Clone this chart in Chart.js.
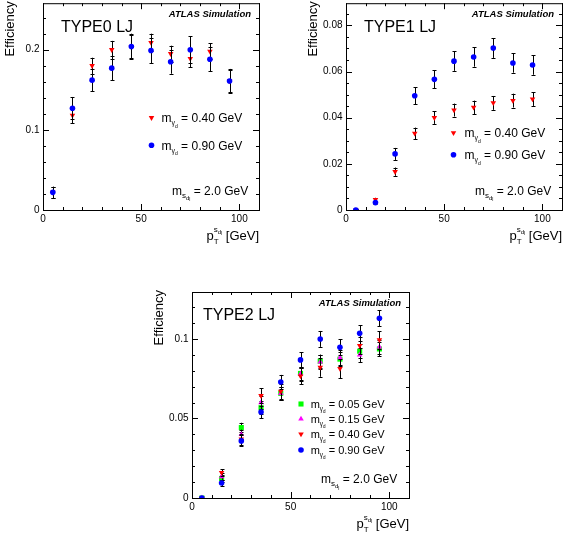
<!DOCTYPE html>
<html>
<head>
<meta charset="utf-8">
<script src="https://cdn.jsdelivr.net/npm/chart.js@4.4.0/dist/chart.umd.min.js"></script>
<style>
body { margin: 0; background: #fff; }
canvas { position: absolute; }
</style>
</head>
<body>
<canvas id="type0" width="283" height="250" style="left:0;top:0"></canvas>
<canvas id="type1" width="283" height="250" style="left:283px;top:0"></canvas>
<canvas id="type2" width="283" height="256" style="left:140px;top:280px"></canvas>
<script>
var FONT = "'Liberation Sans', Arial, sans-serif";

// pT bin centres [GeV]
var ptBins = [5, 15, 25, 35, 45, 55, 65, 75, 85, 95];
var xTickLabels = ['0', '50', '100'];

// TYPE0 LJ
var type0Labels = ['0.40 GeV', '0.90 GeV'];
var type0Mass040 = [0.022, 0.118, 0.180, 0.200, 0.204, 0.209, 0.195, 0.189, 0.198, 0.161];
var type0Mass040Err = [0.007, 0.010, 0.010, 0.011, 0.014, 0.011, 0.010, 0.011, 0.010, 0.014];
var type0Mass090 = [0.022, 0.127, 0.162, 0.177, 0.204, 0.199, 0.185, 0.200, 0.188, 0.161];
var type0Mass090Err = [0.007, 0.014, 0.014, 0.015, 0.016, 0.016, 0.015, 0.017, 0.015, 0.015];
var type0YTicks = ['0', '0.1', '0.2'];

// TYPE1 LJ
var type1Labels = ['0.40 GeV', '0.90 GeV'];
var type1Mass040 = [0.0, 0.0045, 0.0166, 0.0332, 0.0400, 0.0433, 0.0445, 0.0464, 0.0474, 0.0481];
var type1Mass040Err = [0.0004, 0.0008, 0.0018, 0.0025, 0.0027, 0.0028, 0.0029, 0.0030, 0.0030, 0.0030];
var type1Mass090 = [0.0, 0.0032, 0.0243, 0.0495, 0.0566, 0.0645, 0.0663, 0.0702, 0.0637, 0.0628];
var type1Mass090Err = [0.0004, 0.0008, 0.0026, 0.0037, 0.0039, 0.0042, 0.0042, 0.0043, 0.0042, 0.0042];
var type1YTicks = ['0', '0.02', '0.04', '0.06', '0.08'];

// TYPE2 LJ
var type2Labels = ['0.05 GeV', '0.15 GeV', '0.40 GeV', '0.90 GeV'];
var type2Mass005 = [0.0, 0.0123, 0.0443, 0.0568, 0.0658, 0.0783, 0.0860, 0.0873, 0.0923, 0.0937];
var type2Mass005Err = [0.0003, 0.0020, 0.0030, 0.0040, 0.0040, 0.0042, 0.0042, 0.0045, 0.0045, 0.0045];
var type2Mass015 = [0.0, 0.0135, 0.0400, 0.0600, 0.0658, 0.0780, 0.0855, 0.0883, 0.0900, 0.0950];
var type2Mass015Err = [0.0003, 0.0020, 0.0030, 0.0040, 0.0040, 0.0042, 0.0042, 0.0045, 0.0045, 0.0045];
var type2Mass040 = [0.0, 0.0160, 0.0370, 0.0643, 0.0670, 0.0766, 0.0822, 0.0814, 0.0958, 0.0994];
var type2Mass040Err = [0.0003, 0.0020, 0.0035, 0.0047, 0.0045, 0.0050, 0.0060, 0.0060, 0.0055, 0.0055];
var type2Mass090 = [0.0, 0.0094, 0.0359, 0.0541, 0.0729, 0.0868, 0.1000, 0.0948, 0.1035, 0.1130];
var type2Mass090Err = [0.0003, 0.0020, 0.0035, 0.0040, 0.0045, 0.0048, 0.0050, 0.0050, 0.0050, 0.0050];
var type2YTicks = ['0', '0.05', '0.1'];

var massSdl = '2.0 GeV';

var styles = {
    m005: { color: '#00ff00', pointStyle: 'rect', rotation: 0, radius: 3.6 },
    m015: { color: '#ff00ff', pointStyle: 'triangle', rotation: 0, radius: 3.2 },
    m040: { color: '#ff0000', pointStyle: 'triangle', rotation: 180, radius: 3.2 },
    m090: { color: '#0000ff', pointStyle: 'circle', rotation: 0, radius: 2.8 }
};

function points(values) {
    return ptBins.map(function (x, i) { return { x: x, y: values[i] }; });
}

// draws a text made of pieces [text, size, dy, noAdvance]
function drawRich(ctx, x, y, parts, align) {
    var widths = parts.map(function (p) {
        ctx.font = p[1] + 'px ' + FONT;
        return ctx.measureText(p[0]).width;
    });
    var total = 0;
    parts.forEach(function (p, i) { if (!p[3]) total += widths[i]; });
    if (align === 'right') x -= total;
    ctx.textAlign = 'left';
    ctx.textBaseline = 'alphabetic';
    parts.forEach(function (p, i) {
        ctx.font = p[1] + 'px ' + FONT;
        ctx.fillText(p[0], x, y + (p[2] || 0));
        if (!p[3]) x += widths[i];
    });
}

function mGammaParts(text, size) {
    var s = size / 12;
    return [['m', size, 0], ['\u03b3', 7 * s, 3 * s], ['d', 5 * s, 5.5 * s], [' = ' + text, size, 0]];
}

var rootPlugin = {
    id: 'rootStyle',
    beforeDatasetsDraw: function (chart) {
        var o = chart.options.plugins.rootStyle;
        var ctx = chart.ctx, a = chart.chartArea;
        var xs = chart.scales.x, ys = chart.scales.y;
        ctx.save();
        ctx.strokeStyle = '#000';
        ctx.lineWidth = 1;
        ctx.strokeRect(a.left + 0.5, a.top + 0.5, a.right - a.left, a.bottom - a.top);
        ctx.beginPath();
        // x ticks, bottom and top
        for (var v = 0; v <= 110.001; v += 10) {
            var px = Math.round(xs.getPixelForValue(v)) + 0.5;
            var len = (v % 50 === 0) ? 6 : 3;
            ctx.moveTo(px, a.bottom); ctx.lineTo(px, a.bottom - len);
            ctx.moveTo(px, a.top); ctx.lineTo(px, a.top + len);
        }
        // y ticks, left and right
        var n = Math.floor(ys.max / o.yMinor + 1e-6);
        for (var k = 0; k <= n; k++) {
            var yv = k * o.yMinor;
            var py = Math.round(ys.getPixelForValue(yv)) + 0.5;
            var major = Math.abs(k % o.yMinorPerMajor) < 1e-6;
            var l = major ? 6 : 3;
            ctx.moveTo(a.left, py); ctx.lineTo(a.left + l, py);
            ctx.moveTo(a.right, py); ctx.lineTo(a.right - l, py);
        }
        ctx.stroke();
        ctx.restore();
    },
    beforeDatasetDraw: function (chart, args) {
        var ds = chart.data.datasets[args.index];
        var ys = chart.scales.y, ctx = chart.ctx;
        ctx.save();
        ctx.strokeStyle = '#000';
        ctx.lineWidth = 1;
        ctx.beginPath();
        args.meta.data.forEach(function (pt, i) {
            var v = ds.data[i].y, e = ds.errors[i];
            var x = Math.round(pt.x) + 0.5;
            var y1 = ys.getPixelForValue(v + e), y2 = ys.getPixelForValue(Math.max(v - e, 0));
            ctx.moveTo(x, y1); ctx.lineTo(x, y2);
            ctx.moveTo(x - 2, Math.round(y1) + 0.5); ctx.lineTo(x + 2, Math.round(y1) + 0.5);
            if (v - e > 0) { ctx.moveTo(x - 2, Math.round(y2) + 0.5); ctx.lineTo(x + 2, Math.round(y2) + 0.5); }
        });
        ctx.stroke();
        ctx.restore();
    },
    afterDraw: function (chart) {
        var o = chart.options.plugins.rootStyle;
        var ctx = chart.ctx, a = chart.chartArea;
        var xs = chart.scales.x, ys = chart.scales.y;
        ctx.save();
        ctx.fillStyle = '#000';

        // tick labels
        ctx.font = '10px ' + FONT;
        ctx.textAlign = 'right';
        ctx.textBaseline = 'middle';
        o.yTicks.forEach(function (t) {
            ctx.fillText(t, a.left - 3.5, ys.getPixelForValue(parseFloat(t)));
        });
        ctx.textAlign = 'center';
        xTickLabels.forEach(function (t) {
            ctx.fillText(t, xs.getPixelForValue(parseFloat(t)), a.bottom + 9);
        });

        // axis titles
        ctx.save();
        ctx.translate(a.left - 33, a.top - 2);
        ctx.rotate(-Math.PI / 2);
        ctx.font = '13px ' + FONT;
        ctx.textAlign = 'right';
        ctx.textBaseline = 'middle';
        ctx.fillText('Efficiency', 0, 0);
        ctx.restore();
        drawRich(ctx, a.right, a.bottom + 30, [
            ['p', 13, 0], ['T', 8, 4, true], ['s', 8, -8], ['d', 6, -6.5], ['l', 5, -5], [' [GeV]', 13, 0]
        ], 'right');

        // labels
        ctx.font = 'bold italic 9.5px ' + FONT;
        ctx.textAlign = 'right';
        ctx.textBaseline = 'alphabetic';
        ctx.fillText('ATLAS Simulation', a.right - 8, a.top + 14);
        ctx.font = '16px ' + FONT;
        ctx.textAlign = 'left';
        ctx.fillText(o.title, a.left + o.titleX, a.top + o.titleY);

        // legend
        o.entries.forEach(function (en, i) {
            var cy = a.top + o.legendRows[i];
            var st = styles[en.style];
            ctx.fillStyle = st.color;
            Chart.helpers.drawPoint(ctx, { pointStyle: st.pointStyle, rotation: st.rotation, radius: st.radius, borderWidth: 0 },
                a.left + o.legendMarkerX, cy);
            ctx.fillStyle = '#000';
            drawRich(ctx, a.left + o.legendTextX, cy + o.legendFont * 0.36, mGammaParts(en.label, o.legendFont));
        });
        drawRich(ctx, a.left + 129, a.top + 187 + 4.3, [
            ['m', 12, 0], ['s', 8, 3], ['d', 6, 5], ['l', 5, 6.5], [' = ' + massSdl, 12, 0]
        ]);
        ctx.restore();
    }
};

function makePanel(id, o) {
    var datasets = o.entries.map(function (en, i) {
        var st = styles[en.style];
        return {
            label: en.label,
            data: points(en.values),
            errors: en.errors,
            order: o.entries.length - i,
            showLine: false,
            pointStyle: st.pointStyle,
            rotation: st.rotation,
            pointRadius: st.radius,
            pointHoverRadius: st.radius,
            pointBorderWidth: 0,
            backgroundColor: st.color,
            borderColor: st.color
        };
    });
    return new Chart(document.getElementById(id).getContext('2d'), {
        type: 'scatter',
        data: { datasets: datasets },
        options: {
            responsive: false,
            animation: false,
            devicePixelRatio: 1,
            layout: { padding: o.padding },
            scales: {
                x: { type: 'linear', min: 0, max: 110, display: false },
                y: { type: 'linear', min: 0, max: o.yMax, display: false }
            },
            plugins: {
                legend: { display: false },
                tooltip: { enabled: false },
                rootStyle: o
            }
        },
        plugins: [rootPlugin]
    });
}

makePanel('type0', {
    title: 'TYPE0 LJ', titleX: 18, titleY: 29,
    padding: { left: 43, top: 3, right: 24, bottom: 40 },
    yMax: 0.258, yMinor: 0.02, yMinorPerMajor: 5, yTicks: type0YTicks,
    legendMarkerX: 108.5, legendTextX: 118.5, legendRows: [114.5, 142], legendFont: 12,
    entries: [
        { label: type0Labels[0], values: type0Mass040, errors: type0Mass040Err, style: 'm040' },
        { label: type0Labels[1], values: type0Mass090, errors: type0Mass090Err, style: 'm090' }
    ]
});

makePanel('type1', {
    title: 'TYPE1 LJ', titleX: 18, titleY: 29,
    padding: { left: 63, top: 3, right: 4, bottom: 40 },
    yMax: 0.0896, yMinor: 0.005, yMinorPerMajor: 4, yTicks: type1YTicks,
    legendMarkerX: 107.5, legendTextX: 118.5, legendRows: [129.7, 151.5], legendFont: 12,
    entries: [
        { label: type1Labels[0], values: type1Mass040, errors: type1Mass040Err, style: 'm040' },
        { label: type1Labels[1], values: type1Mass090, errors: type1Mass090Err, style: 'm090' }
    ]
});

makePanel('type2', {
    title: 'TYPE2 LJ', titleX: 11, titleY: 27.5,
    padding: { left: 52, top: 12, right: 14, bottom: 38 },
    yMax: 0.1295, yMinor: 0.01, yMinorPerMajor: 5, yTicks: type2YTicks,
    legendMarkerX: 109, legendTextX: 118.7, legendRows: [112, 127, 142, 158], legendFont: 11,
    entries: [
        { label: type2Labels[0], values: type2Mass005, errors: type2Mass005Err, style: 'm005' },
        { label: type2Labels[1], values: type2Mass015, errors: type2Mass015Err, style: 'm015' },
        { label: type2Labels[2], values: type2Mass040, errors: type2Mass040Err, style: 'm040' },
        { label: type2Labels[3], values: type2Mass090, errors: type2Mass090Err, style: 'm090' }
    ]
});
</script>
</body>
</html>
